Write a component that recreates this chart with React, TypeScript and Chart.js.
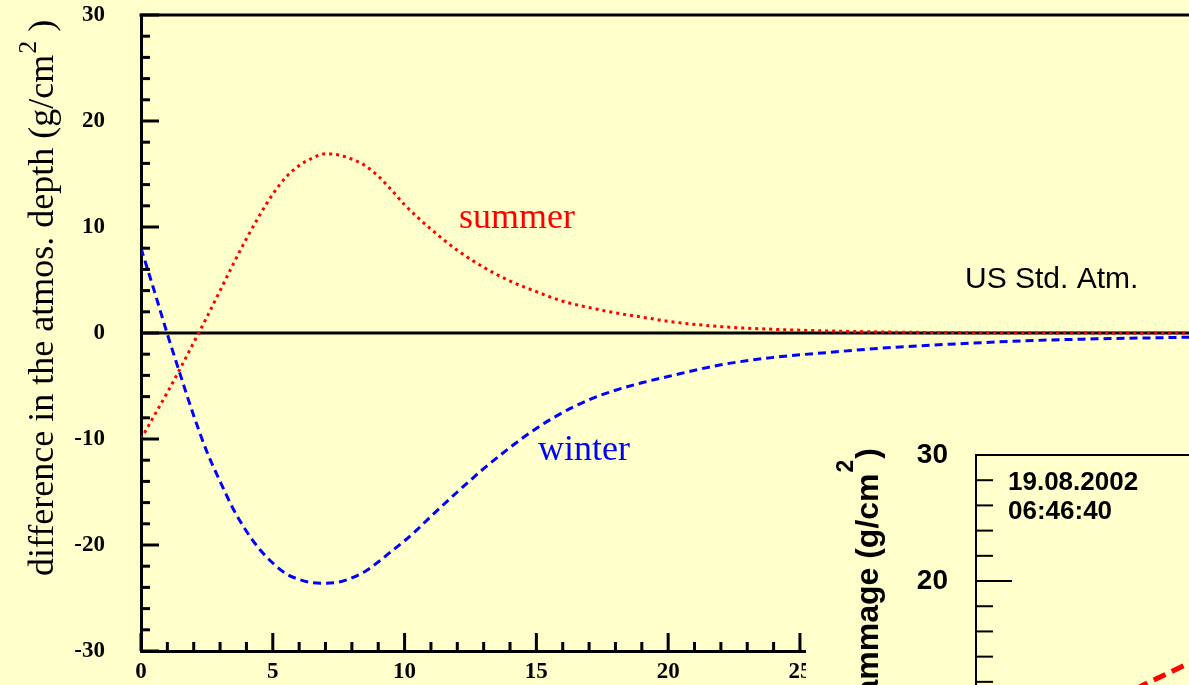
import React, { useEffect, useRef } from 'react';
import { Chart, registerables } from 'chart.js';

Chart.register(...registerables);

// ---------- data ----------
const depthKm = [0, 0.5, 1, 1.5, 2, 2.5, 3, 3.5, 4, 4.5, 5, 5.5, 6, 6.5, 7, 7.5, 8, 8.5, 9, 9.5, 10, 10.5, 11, 12, 13, 14, 15, 16, 17, 18, 19, 20, 22, 24, 26, 28, 30, 34, 40];
const summerDiff = [-10, -7.8, -5.6, -3.3, -0.9, 1.5, 4.0, 6.5, 8.9, 11.1, 13.1, 14.7, 15.8, 16.5, 16.9, 16.8, 16.4, 15.8, 14.8, 13.5, 12.1, 10.9, 9.8, 7.8, 6.2, 4.9, 3.9, 3.0, 2.4, 1.9, 1.5, 1.1, 0.6, 0.35, 0.2, 0.1, 0.05, 0.02, 0];
const winterDiff = [8.0, 4.0, -0.1, -4.0, -7.8, -11.2, -14.0, -16.6, -18.7, -20.4, -21.7, -22.7, -23.25, -23.55, -23.6, -23.5, -23.1, -22.5, -21.6, -20.6, -19.6, -18.5, -17.3, -15.0, -12.8, -10.8, -9.0, -7.5, -6.3, -5.4, -4.7, -4.1, -3.0, -2.3, -1.85, -1.45, -1.15, -0.7, -0.38];
const usStdDepth = [0, 40];
const usStdDiff = [0, 0];

const xMin = 0;
const xMax = 39.76;
const xMajorStep = 5;
const yMin = -30;
const yMax = 30;
const yMajorStep = 10;

const seriesLabels = ['summer', 'winter', 'US Std. Atm.'];
const yTitleMain = 'difference in the atmos. depth (g/cm';
const yTitleSup = '2';
const yTitleEnd = ' )';

// inset chart
const insetX = [7.5, 10.5];
const insetGrammage = [11.45, 13.9];
const insetYMin = 11.75;
const insetYMax = 30;
const insetDate = '19.08.2002';
const insetTime = '06:46:40';
const insetTitleMain = 'Grammage (g/cm';
const insetTitleSup = '2';
const insetTitleEnd = ')';

const BG = '#ffffcc';
const SERIF = '"Liberation Serif", "Times New Roman", serif';
const SANS = '"Liberation Sans", Arial, sans-serif';

function line(ctx: CanvasRenderingContext2D, x1: number, y1: number, x2: number, y2: number) {
  ctx.beginPath();
  ctx.moveTo(x1, y1);
  ctx.lineTo(x2, y2);
  ctx.stroke();
}

function noPad(s: any) {
  s.paddingTop = 0;
  s.paddingBottom = 0;
  s.paddingLeft = 0;
  s.paddingRight = 0;
}

const mainDeco = {
  id: 'mainDeco',
  beforeDraw(chart: any) {
    const ctx = chart.ctx;
    ctx.save();
    ctx.fillStyle = BG;
    ctx.fillRect(0, 0, chart.width, chart.height);
    ctx.restore();
  },
  afterDraw(chart: any) {
    const { ctx, chartArea } = chart;
    const xs = chart.scales.x;
    const ys = chart.scales.y;
    ctx.save();
    ctx.strokeStyle = '#000';
    ctx.lineWidth = 3;
    // top frame line
    line(ctx, chartArea.left - 1.5, chartArea.top, chartArea.right, chartArea.top);
    // y ticks (inside)
    for (let v = yMin; v <= yMax; v += 2) {
      const y = ys.getPixelForValue(v);
      const len = v % yMajorStep === 0 ? 18 : 9;
      line(ctx, chartArea.left, y, chartArea.left + len, y);
    }
    // x ticks (inside)
    for (let v = xMin; v <= Math.floor(xMax); v += 1) {
      const x = xs.getPixelForValue(v);
      const len = v % xMajorStep === 0 ? 18 : 9;
      line(ctx, x, chartArea.bottom, x, chartArea.bottom - len);
    }
    // y title (rotated, with superscript)
    ctx.fillStyle = '#000';
    ctx.textAlign = 'left';
    ctx.textBaseline = 'alphabetic';
    ctx.translate(53, 576);
    ctx.rotate(-Math.PI / 2);
    ctx.font = `36px ${SERIF}`;
    ctx.fillText(yTitleMain, 0, 0);
    let w = ctx.measureText(yTitleMain).width;
    ctx.font = `26px ${SERIF}`;
    ctx.fillText(yTitleSup, w + 1, -17);
    w += ctx.measureText(yTitleSup).width + 1;
    ctx.font = `36px ${SERIF}`;
    ctx.fillText(yTitleEnd, w, 0);
    ctx.restore();

    // curve labels
    ctx.save();
    ctx.textAlign = 'left';
    ctx.textBaseline = 'alphabetic';
    ctx.font = `36px ${SERIF}`;
    ctx.fillStyle = '#ff0000';
    ctx.fillText(seriesLabels[0], 459, 228);
    ctx.fillStyle = '#0000ff';
    ctx.fillText(seriesLabels[1], 538, 460);
    ctx.font = `30px ${SANS}`;
    ctx.fillStyle = '#000';
    ctx.fillText(seriesLabels[2], 965, 288);
    ctx.restore();
  },
};

const insetDeco = {
  id: 'insetDeco',
  beforeDraw(chart: any) {
    const ctx = chart.ctx;
    ctx.save();
    ctx.fillStyle = BG;
    ctx.fillRect(0, 0, chart.width, chart.height);
    ctx.restore();
  },
  afterDraw(chart: any) {
    const { ctx, chartArea } = chart;
    const ys = chart.scales.y;
    ctx.save();
    ctx.strokeStyle = '#000';
    ctx.lineWidth = 2;
    line(ctx, chartArea.left - 1, chartArea.top, chartArea.right, chartArea.top);
    for (let v = 12; v <= insetYMax; v += 2) {
      const y = ys.getPixelForValue(v);
      const len = v % 10 === 0 ? 36 : 17;
      line(ctx, chartArea.left, y, chartArea.left + len, y);
    }
    ctx.fillStyle = '#000';
    ctx.textAlign = 'left';
    ctx.textBaseline = 'alphabetic';
    ctx.font = `bold 26px ${SANS}`;
    ctx.fillText(insetDate, 202, 70);
    ctx.fillText(insetTime, 202, 99);

    // rotated y title anchored at its end
    ctx.font = `bold 32px ${SANS}`;
    const w1 = ctx.measureText(insetTitleMain).width;
    const w3 = ctx.measureText(insetTitleEnd).width;
    ctx.font = `bold 23px ${SANS}`;
    const w2 = ctx.measureText(insetTitleSup).width;
    const total = w1 + w2 + 2 + w3;
    ctx.translate(72, 28 + total);
    ctx.rotate(-Math.PI / 2);
    ctx.font = `bold 32px ${SANS}`;
    ctx.fillText(insetTitleMain, 0, 0);
    ctx.font = `bold 23px ${SANS}`;
    ctx.fillText(insetTitleSup, w1 + 1, -25);
    ctx.font = `bold 32px ${SANS}`;
    ctx.fillText(insetTitleEnd, w1 + w2 + 2, 0);
    ctx.restore();
  },
};

export default function App() {
  const mainRef = useRef<HTMLCanvasElement>(null);
  const insetRef = useRef<HTMLCanvasElement>(null);

  useEffect(() => {
    const mainCanvas = mainRef.current;
    const insetCanvas = insetRef.current;
    if (!mainCanvas || !insetCanvas) return;

    const tickFont = { family: SERIF, size: 23, weight: 'bold' as const };

    const main = new Chart(mainCanvas, {
      type: 'line',
      data: {
        datasets: [
          {
            label: seriesLabels[0],
            data: depthKm.map((x, i) => ({ x, y: summerDiff[i] })),
            borderColor: '#ff0000',
            borderWidth: 3,
            borderDash: [3, 4],
            pointRadius: 0,
            cubicInterpolationMode: 'monotone',
            fill: false,
          },
          {
            label: seriesLabels[1],
            data: depthKm.map((x, i) => ({ x, y: winterDiff[i] })),
            borderColor: '#0000ff',
            borderWidth: 3,
            borderDash: [8, 5],
            pointRadius: 0,
            cubicInterpolationMode: 'monotone',
            fill: false,
          },
          {
            label: seriesLabels[2],
            data: usStdDepth.map((x, i) => ({ x, y: usStdDiff[i] })),
            borderColor: '#000000',
            borderWidth: 3,
            pointRadius: 0,
            fill: false,
          },
        ],
      },
      options: {
        responsive: false,
        maintainAspectRatio: false,
        animation: false,
        events: [],
        layout: { padding: { top: 15, left: 0, right: 0, bottom: 0 }, autoPadding: false },
        plugins: { legend: { display: false }, tooltip: { enabled: false }, title: { display: false } },
        scales: {
          x: {
            type: 'linear',
            min: xMin,
            max: xMax,
            ticks: { stepSize: xMajorStep, includeBounds: false, font: tickFont, color: '#000', padding: 7, maxRotation: 0 },
            grid: { display: false, drawTicks: false },
            border: { display: true, width: 3, color: '#000' },
            afterFit: (s: any) => { s.height = 34; noPad(s); },
          },
          y: {
            type: 'linear',
            min: yMin,
            max: yMax,
            ticks: { stepSize: yMajorStep, font: tickFont, color: '#000', padding: 36 },
            grid: { display: false, drawTicks: false },
            border: { display: true, width: 3, color: '#000' },
            afterFit: (s: any) => { s.width = 141; noPad(s); },
          },
        },
      },
      plugins: [mainDeco],
    } as any);

    const inset = new Chart(insetCanvas, {
      type: 'line',
      data: {
        datasets: [
          {
            data: insetX.map((x, i) => ({ x, y: insetGrammage[i] })),
            borderColor: '#ff0000',
            borderWidth: 5,
            borderDash: [13, 7],
            pointRadius: 0,
            fill: false,
          },
        ],
      },
      options: {
        responsive: false,
        maintainAspectRatio: false,
        animation: false,
        events: [],
        layout: { padding: { top: 35, left: 0, right: 0, bottom: 0 }, autoPadding: false },
        plugins: { legend: { display: false }, tooltip: { enabled: false } },
        scales: {
          x: { type: 'linear', display: false, min: 0, max: 10 },
          y: {
            type: 'linear',
            min: insetYMin,
            max: insetYMax,
            ticks: { stepSize: 10, includeBounds: false, font: { family: SANS, size: 28, weight: 'bold' }, color: '#000', padding: 28 },
            grid: { display: false, drawTicks: false },
            border: { display: true, width: 2, color: '#000' },
            afterFit: (s: any) => { s.width = 170; noPad(s); },
          },
        },
      },
      plugins: [insetDeco],
    } as any);

    return () => {
      main.destroy();
      inset.destroy();
    };
  }, []);

  return (
    <div style={{ position: 'fixed', left: 0, top: 0, width: 1189, height: 685, background: BG, overflow: 'hidden' }}>
      <canvas ref={mainRef} width={1189} height={685} style={{ position: 'absolute', left: 0, top: 0, width: 1189, height: 685 }} />
      <canvas ref={insetRef} width={383} height={265} style={{ position: 'absolute', left: 806, top: 420, width: 383, height: 265 }} />
    </div>
  );
}
